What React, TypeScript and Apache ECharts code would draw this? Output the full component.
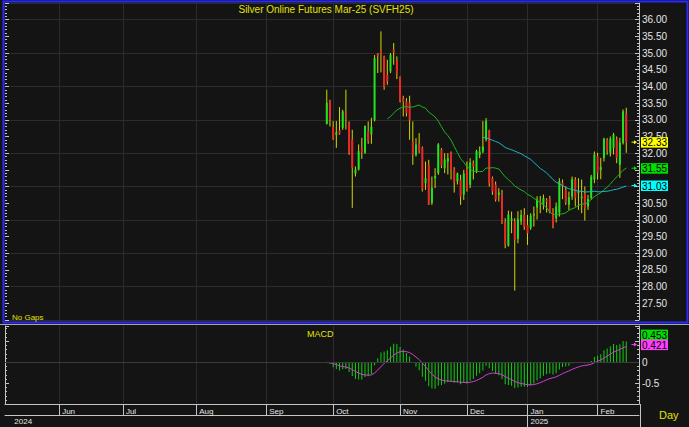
import React, { useEffect, useRef } from "react";
import * as echarts from "echarts";

// ---------- data ----------
const TITLE = "Silver Online Futures Mar-25 (SVFH25)";
const SLOT_COUNT = 200; // trading-day slots across the x axis
const FIRST_BAR_SLOT = 101; // slot of the first candle

const monthLabels = ["Jun", "Jul", "Aug", "Sep", "Oct", "Nov", "Dec", "Jan", "Feb"];
const monthSlots = [17, 37, 60, 82, 103, 124, 145, 164, 186];
const yearLabels = ["2024", "2025"];
const yearSlots = [2, 164];

const opens = [
  32.88, 33.55, 32.78, 32.55, 32.68, 32.76, 33.2, 32.91, 32.41, 31.39,
  31.51, 32.16, 32.01, 32.65, 32.56, 32.99, 34.98, 35.08, 34.9, 34.35,
  34.45, 35.1, 34.78, 34.28, 33.65, 33.55, 33.5, 32.35, 31.95, 32.26,
  32.16, 31.1, 31.66, 30.51, 31.25, 31.4, 32.11, 31.55, 31.75, 32.01,
  31.51, 31.15, 31.2, 30.76, 31.51, 31.05, 31.7, 31.46, 31.95, 32.05,
  32.41, 32.68, 31.25, 31.06, 30.75, 30.76, 29.93, 29.23, 29.98, 29.96,
  29.43, 29.95, 30.15, 29.85, 29.76, 30.13, 30.37, 30.55, 30.46, 30.6,
  30.65, 30.29, 30.05, 30.22, 31.12, 30.91, 30.45, 30.7, 31.21, 30.8,
  30.65, 30.8, 30.4, 30.66, 31.21, 31.91, 31.5, 31.85, 32.38, 32.01,
  32.16, 32.41, 31.65, 32.31, 33.18,
];
const closes = [
  33.51, 33.01, 32.45, 32.62, 32.58, 33.25, 33.1, 32.01, 31.56, 31.51,
  32.06, 32.03, 32.81, 32.36, 32.79, 34.85, 34.92, 34.98, 33.98, 34.15,
  34.95, 35.02, 34.38, 33.58, 33.55, 33.2, 32.98, 31.95, 32.26, 32.06,
  30.91, 31.25, 30.46, 30.96, 31.32, 32.26, 31.62, 31.81, 31.85, 31.51,
  31.12, 31.39, 30.7, 31.39, 30.91, 31.72, 31.6, 32.06, 32.05, 32.2,
  32.96, 31.09, 30.85, 30.61, 30.82, 29.92, 29.26, 30.16, 30.04, 29.41,
  30.03, 30.15, 29.78, 29.6, 30.13, 30.18, 30.61, 30.5, 30.66, 30.55,
  30.26, 29.81, 30.4, 31.16, 31.02, 30.52, 30.68, 31.22, 30.66, 30.85,
  30.7, 30.35, 30.62, 31.29, 31.96, 31.41, 31.58, 32.43, 32.07, 32.43,
  32.56, 31.86, 32.32, 33.25, 32.33,
];
const lows = [
  32.86, 32.8, 32.4, 32.16, 32.55, 32.7, 32.71, 31.95, 30.36, 31.3,
  31.48, 31.83, 31.98, 32.28, 32.28, 32.95, 34.4, 34.42, 33.9, 34.05,
  34.4, 34.65, 34.22, 33.52, 33.1, 33.1, 32.4, 31.65, 31.9, 32.0,
  30.85, 30.9, 30.45, 30.45, 30.95, 31.35, 31.55, 31.4, 31.36, 31.21,
  30.82, 31.06, 30.45, 30.6, 30.85, 30.95, 31.21, 31.4, 31.85, 32.0,
  32.35, 31.0, 30.75, 30.55, 30.55, 29.88, 29.15, 29.2, 29.6, 27.88,
  29.3, 29.85, 29.7, 29.25, 29.7, 29.8, 30.01, 30.2, 30.31, 30.22,
  30.2, 29.75, 29.92, 30.1, 30.62, 30.45, 30.3, 30.6, 30.4, 30.3,
  30.2, 29.98, 30.3, 30.6, 31.1, 31.21, 31.22, 31.75, 31.95, 31.9,
  31.96, 31.7, 31.26, 32.26, 32.01,
];
const highs = [
  33.9, 33.6, 32.96, 32.96, 33.38, 33.3, 33.9, 32.95, 32.7, 31.6,
  32.26, 32.46, 32.83, 32.95, 33.06, 34.94, 35.0, 35.65, 34.92, 34.8,
  35.0, 35.3, 34.9, 34.3, 33.72, 33.65, 33.72, 32.95, 32.45, 32.6,
  32.2, 31.75, 31.8, 31.3, 31.55, 32.3, 32.15, 32.0, 32.0, 32.05,
  31.58, 31.42, 31.35, 31.5, 31.75, 31.85, 31.78, 32.1, 32.2, 32.96,
  33.05, 32.7, 31.3, 31.15, 30.95, 30.9, 30.05, 30.28, 30.25, 30.05,
  30.26, 30.3, 30.35, 30.15, 30.2, 30.4, 30.71, 30.72, 30.76, 30.65,
  30.72, 30.35, 30.52, 31.25, 31.21, 31.0, 30.85, 31.3, 31.28, 31.25,
  31.21, 31.0, 30.75, 31.35, 32.05, 32.01, 31.86, 32.46, 32.45, 32.5,
  32.61, 32.5, 32.46, 33.31, 33.36,
];

// price axis labels run from 27.50 to 36.00
const PRICE_LABEL_MIN = 27.5;
const PRICE_LABEL_MAX = 36;

// last values shown in the right-hand tags
const tagClose = 32.33;
const tagMa20 = 31.55;
const tagMa50 = 31.03;
const tagMacd = 0.453;
const tagSignal = 0.421;

// ---------- styles ----------
const BG = "#141414";
const GRID = "#2c2c2c";
const AXIS = "#c4c4c4";
const LABEL = "#e4e4e4";
const YELLOW = "#e2e200";
const WICK = "#d6d600";
const UP = "#1ee61e";
const DOWN = "#ee2626";
const MA20_COLOR = "#1db41d";
const MA50_COLOR = "#1fb6c6";
const MACD_COLOR = "#10d010";
const SIGNAL_COLOR = "#d040d0";
const BLUE = "#2a2aff";
const FONT = '"Liberation Sans", Arial, sans-serif';

// ---------- helpers ----------
const slots = Array.from({ length: SLOT_COUNT }, (_, i) => String(i));
const monthBySlot = new Map(monthSlots.map((s, i) => [s, monthLabels[i]]));
const yearBySlot = new Map(yearSlots.map((s, i) => [s, yearLabels[i]]));
const isMonth = (i: number) => monthBySlot.has(i);

function sma(values: number[], n: number) {
  const out: [number, number][] = [];
  for (let k = n - 1; k < values.length; k++) {
    let s = 0;
    for (let j = k - n + 1; j <= k; j++) s += values[j];
    out.push([FIRST_BAR_SLOT + k, s / n]);
  }
  return out;
}
function ema(values: number[], n: number) {
  const a = 2 / (n + 1);
  const out: number[] = [];
  let prev = values[0];
  values.forEach((v, i) => {
    prev = i === 0 ? v : v * a + prev * (1 - a);
    out.push(prev);
  });
  return out;
}

function buildOption(): any {
  const candleData = opens.map((o, k) => [FIRST_BAR_SLOT + k, o, closes[k], lows[k], highs[k]]);
  const e12 = ema(closes, 12);
  const e26 = ema(closes, 26);
  const macd = e12.map((v, i) => v - e26[i]);
  const signal = ema(macd, 9);

  const sideAxisBase = {
    axisLine: { show: true, onZero: false, lineStyle: { color: AXIS } },
    axisTick: { show: true, inside: true, length: 4, lineStyle: { color: AXIS } },
    minorTick: { show: true, splitNumber: 5, length: 2, lineStyle: { color: AXIS } },
    splitLine: { show: false },
  };

  return {
    backgroundColor: BG,
    animation: false,
    textStyle: { fontFamily: FONT },
    grid: [
      { left: 5, right: 50, top: 3, height: 317 },
      { left: 5, right: 50, top: 326, height: 78.3 },
    ],
    xAxis: [
      {
        type: "category", gridIndex: 0, data: slots, boundaryGap: false,
        axisLine: { show: false }, axisTick: { show: false }, axisLabel: { show: false },
        splitLine: { show: true, interval: isMonth, lineStyle: { color: GRID } },
      },
      {
        type: "category", gridIndex: 1, data: slots, boundaryGap: false, position: "bottom",
        axisLine: { show: true, onZero: false, lineStyle: { color: AXIS } },
        axisTick: { show: true, interval: isMonth, length: 11, lineStyle: { color: AXIS } },
        axisLabel: {
          show: true, interval: isMonth, formatter: (v: string) => monthBySlot.get(+v) ?? "",
          align: "left", padding: [0, 0, 0, 3], margin: 3, color: LABEL, fontSize: 8, fontFamily: FONT,
        },
        splitLine: { show: true, interval: isMonth, lineStyle: { color: GRID } },
      },
      {
        type: "category", gridIndex: 1, data: slots, boundaryGap: false, position: "bottom", offset: 11,
        axisLine: { show: true, onZero: false, lineStyle: { color: AXIS } },
        axisTick: { show: true, interval: (i: number) => i === yearSlots[1], length: 12, lineStyle: { color: AXIS } },
        axisLabel: {
          show: true, interval: (i: number) => yearBySlot.has(i), formatter: (v: string) => yearBySlot.get(+v) ?? "",
          align: "left", padding: [0, 0, 0, 3], margin: 2, color: LABEL, fontSize: 8, fontFamily: FONT,
        },
        splitLine: { show: false },
      },
    ],
    yAxis: [
      {
        type: "value", gridIndex: 0, position: "right", min: 27, max: 36.5, interval: 0.5,
        ...sideAxisBase,
        axisLabel: {
          formatter: (v: number) => (v >= PRICE_LABEL_MIN && v <= PRICE_LABEL_MAX ? v.toFixed(2) : ""),
          color: LABEL, fontSize: 10, margin: 3, fontFamily: FONT,
        },
      },
      {
        type: "value", gridIndex: 0, position: "right", min: 27, max: 36.5, interval: 1,
        axisLine: { show: false }, axisTick: { show: false }, axisLabel: { show: false },
        splitLine: { show: true, lineStyle: { color: GRID } },
      },
      {
        type: "value", gridIndex: 0, position: "left", min: 27, max: 36.5, interval: 0.5,
        axisLine: { show: false },
        axisTick: { show: true, inside: true, length: 4, lineStyle: { color: AXIS } },
        minorTick: { show: true, splitNumber: 5, length: 2, lineStyle: { color: AXIS } },
        axisLabel: { show: false }, splitLine: { show: false },
      },
      {
        type: "value", gridIndex: 1, position: "right", min: -1, max: 0.864, interval: 0.5,
        ...sideAxisBase,
        axisLabel: {
          formatter: (v: number) => (v === 0 ? "0" : v === -0.5 ? "-0.5" : ""),
          color: LABEL, fontSize: 10, margin: 3, fontFamily: FONT,
        },
      },
      {
        type: "value", gridIndex: 1, position: "left", min: -1, max: 0.864, interval: 0.5,
        axisLine: { show: true, onZero: false, lineStyle: { color: AXIS } },
        axisTick: { show: true, inside: true, length: 4, lineStyle: { color: AXIS } },
        minorTick: { show: true, splitNumber: 5, length: 2, lineStyle: { color: AXIS } },
        axisLabel: { show: false }, splitLine: { show: false },
      },
    ],
    series: [
      {
        type: "line", xAxisIndex: 0, yAxisIndex: 0, data: sma(closes, 20), showSymbol: false,
        lineStyle: { color: MA20_COLOR, width: 1 }, z: 3,
      },
      {
        type: "line", xAxisIndex: 0, yAxisIndex: 0, data: sma(closes, 50), showSymbol: false,
        lineStyle: { color: MA50_COLOR, width: 1 }, z: 3,
      },
      {
        type: "custom", xAxisIndex: 0, yAxisIndex: 0, data: candleData, z: 2,
        dimensions: ["slot", "open", "close", "low", "high"],
        encode: { x: 0, y: [1, 2, 3, 4] },
        renderItem: (_p: any, api: any) => {
          const x = api.value(0);
          const o = api.value(1), c = api.value(2), l = api.value(3), h = api.value(4);
          const pH = api.coord([x, h]);
          const pL = api.coord([x, l]);
          const pO = api.coord([x, o]);
          const pC = api.coord([x, c]);
          const top = Math.min(pO[1], pC[1]);
          const hgt = Math.max(1, Math.abs(pO[1] - pC[1]));
          return {
            type: "group",
            children: [
              { type: "line", shape: { x1: pH[0], y1: pH[1], x2: pL[0], y2: pL[1] }, style: { stroke: WICK, lineWidth: 1 } },
              { type: "rect", shape: { x: pH[0] - 1, y: top, width: 2, height: hgt }, style: { fill: c >= o ? UP : DOWN } },
            ],
          };
        },
      },
      {
        type: "bar", xAxisIndex: 1, yAxisIndex: 3, barWidth: 1,
        data: macd.map((v, k) => [FIRST_BAR_SLOT + k, v]),
        itemStyle: { color: MACD_COLOR },
        markLine: {
          silent: true, symbol: "none", label: { show: false },
          lineStyle: { color: "#3a3a3a", type: "solid", width: 1 },
          data: [{ yAxis: 0 }],
        },
      },
      {
        type: "line", xAxisIndex: 1, yAxisIndex: 3, showSymbol: false,
        data: signal.map((v, k) => [FIRST_BAR_SLOT + k, v]),
        lineStyle: { color: SIGNAL_COLOR, width: 1 }, z: 4,
      },
    ],
  };
}

function text(x: number, y: number, t: string, size: number, color: string, align = "left"): any {
  return {
    type: "text", x, y, z: 120,
    style: {
      text: t, fill: color, font: `${size}px ${FONT}`,
      align, verticalAlign: "middle", textAlign: align, textVerticalAlign: "middle",
    },
  };
}

function tag(y: number, label: string, bg: string, arrow: boolean): any[] {
  const els: any[] = [
    { type: "rect", z: 110, shape: { x: 641, y: y - 5, width: 27, height: 10.5 }, style: { fill: bg } },
    text(654.5, y + 0.5, label, 10, "#000000", "center"),
  ];
  if (arrow) {
    els.push({ type: "line", z: 110, shape: { x1: 631.5, y1: y, x2: 635.5, y2: y }, style: { stroke: bg, lineWidth: 1 } });
    els.push({ type: "polygon", z: 110, shape: { points: [[634, y - 2], [637, y], [634, y + 2]] }, style: { fill: bg } });
  }
  return els;
}

function buildGraphic(chart: any): any[] {
  const py = (v: number) => chart.convertToPixel({ yAxisIndex: 0 }, v);
  const my = (v: number) => chart.convertToPixel({ yAxisIndex: 3 }, v);
  const ySig = my(tagSignal);
  const yMacd = Math.min(my(tagMacd), ySig - 10);
  return [
    text(326, 9.5, TITLE, 10, YELLOW, "center"),
    text(12, 317, "No Gaps", 8, YELLOW),
    text(307, 333.5, "MACD", 9, YELLOW),
    text(659, 415, "Day", 11, YELLOW),
    {
      type: "rect", z: 105,
      shape: { x: 3.5, y: 1.5, width: 684, height: 321 },
      style: { stroke: BLUE, lineWidth: 2, fill: "none" },
    },
    { type: "line", z: 105, shape: { x1: 0, y1: 324.5, x2: 689, y2: 324.5 }, style: { stroke: "#a8a8a8", lineWidth: 1 } },
    { type: "line", z: 105, shape: { x1: 640.5, y1: 404, x2: 640.5, y2: 427 }, style: { stroke: AXIS, lineWidth: 1 } },
    ...tag(py(tagClose), tagClose.toFixed(2), "#ffff00", true),
    ...tag(py(tagMa20), tagMa20.toFixed(2), "#00e000", true),
    ...tag(py(tagMa50), tagMa50.toFixed(2), "#00ffff", true),
    ...tag(yMacd, tagMacd.toFixed(3), "#00e000", false),
    ...tag(ySig, tagSignal.toFixed(3), "#ff40ff", true),
  ];
}

export default function App() {
  const ref = useRef<HTMLDivElement>(null);
  useEffect(() => {
    const chart = echarts.init(ref.current!, null, { renderer: "svg" });
    chart.setOption(buildOption());
    chart.setOption({ graphic: buildGraphic(chart) });
    return () => chart.dispose();
  }, []);
  return (
    <div
      ref={ref}
      style={{ position: "fixed", left: 0, top: 0, width: 689, height: 427, background: BG }}
    />
  );
}
